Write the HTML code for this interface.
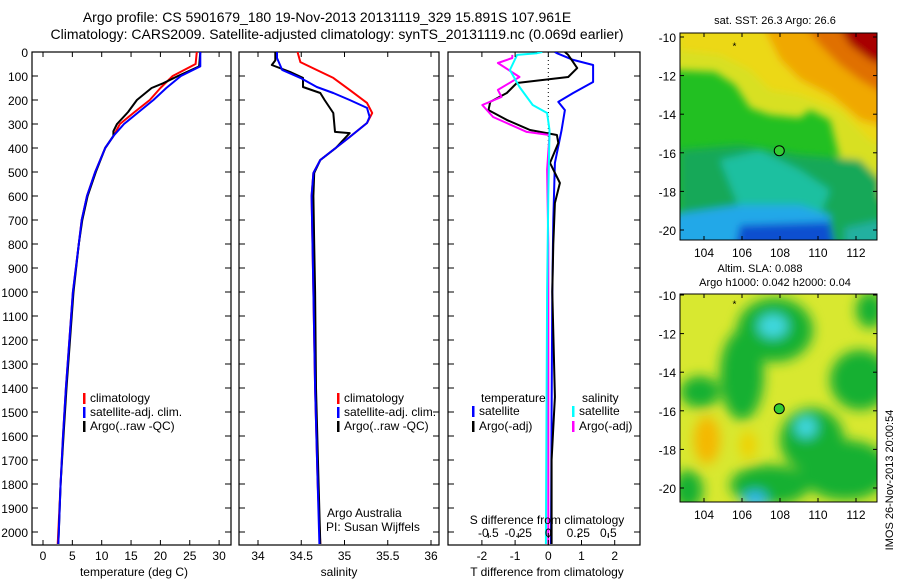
<!DOCTYPE html>
<html><head><meta charset="utf-8"><style>
body{margin:0;background:#fff}
svg{display:block;font-family:"Liberation Sans",sans-serif}
text{fill:#000}
</style></head><body>
<svg id="fig" width="900" height="580" viewBox="0 0 900 580">
<defs>
<filter id="blur6" x="-50%" y="-50%" width="200%" height="200%"><feGaussianBlur stdDeviation="6"/></filter>
<filter id="blur3" x="-20%" y="-20%" width="140%" height="140%"><feGaussianBlur stdDeviation="4"/></filter>
<clipPath id="cp1"><rect x="32" y="52" width="199" height="493"/></clipPath>
<clipPath id="cp2"><rect x="239" y="52" width="200" height="493"/></clipPath>
<clipPath id="cp3"><rect x="448" y="52" width="192" height="493"/></clipPath>
<clipPath id="cm1"><rect x="680" y="33" width="197" height="207"/></clipPath>
<clipPath id="cm2"><rect x="680" y="294" width="197" height="208"/></clipPath>
</defs>
<text x="327" y="22" font-size="14" text-anchor="middle">Argo profile: CS 5901679_180 19-Nov-2013 20131119_329 15.891S 107.961E</text>
<text x="337" y="39" font-size="14" text-anchor="middle">Climatology: CARS2009. Satellite-adjusted climatology: synTS_20131119.nc (0.069d earlier)</text>

<g id="map1" clip-path="url(#cm1)">
<rect x="680" y="33" width="197" height="207" fill="#22c022"/>
<g filter="url(#blur3)">
<polygon points="670,20 895,20 895,200 855,195 840,160 830,120 810,110 800,118 770,115 750,108 735,85 715,72 670,70" fill="#d8e020"/>
<polygon points="680,20 895,20 895,150 870,140 840,110 800,95 770,90 750,70 720,55 680,50" fill="#ecd818"/>
<polygon points="760,20 895,20 895,130 860,120 830,95 800,80 780,60 770,40" fill="#f0a800"/>
<polygon points="800,20 895,20 895,100 860,80 840,65 820,45" fill="#e07000"/>
<polygon points="835,20 895,20 895,70 870,60 850,45" fill="#a80000"/>
<polygon points="680,150 740,145 800,155 860,160 880,180 880,250 680,250" fill="#18a858"/>
<polygon points="720,160 760,150 800,170 830,190 820,215 740,210" fill="#1cc0a0"/>
<polygon points="670,215 740,205 800,205 830,215 830,250 670,250" fill="#20a8e8"/>
<polygon points="740,225 830,222 835,250 735,250" fill="#1050d0"/>
<polygon points="845,228 890,218 890,250 845,250" fill="#20b0a0"/>
</g>
</g>
<g id="map2" clip-path="url(#cm2)">
<rect x="680" y="294" width="197" height="208" fill="#d8e830"/>
<g filter="url(#blur6)">
<ellipse cx="775" cy="330" rx="38" ry="32" fill="#18b030"/>
<ellipse cx="742" cy="375" rx="22" ry="45" fill="#18b030"/>
<ellipse cx="700" cy="392" rx="20" ry="16" fill="#18b030"/>
<ellipse cx="860" cy="380" rx="30" ry="30" fill="#18b030"/>
<ellipse cx="870" cy="310" rx="14" ry="18" fill="#18b030"/>
<ellipse cx="812" cy="440" rx="32" ry="32" fill="#18b030"/>
<ellipse cx="845" cy="470" rx="45" ry="30" fill="#18b030"/>
<ellipse cx="770" cy="485" rx="40" ry="20" fill="#18b030"/>
<ellipse cx="688" cy="490" rx="15" ry="20" fill="#18b030"/>
<ellipse cx="773" cy="326" rx="15" ry="12" fill="#40d8e0"/>
<ellipse cx="806" cy="427" rx="11" ry="11" fill="#40d8e0"/>
<ellipse cx="755" cy="500" rx="12" ry="9" fill="#30b8f0"/>
<ellipse cx="707" cy="440" rx="13" ry="24" fill="#f5b800"/>
<ellipse cx="748" cy="445" rx="8" ry="14" fill="#f0d000"/>
</g>
</g>
</svg>
<script>
const NS="http://www.w3.org/2000/svg";
const svg=document.getElementById('fig');
// ---- data ----
const depthTicks=[0,100,200,300,400,500,600,700,800,900,1000,1100,1200,1300,1400,1500,1600,1700,1800,1900,2000];
const tempTicks=[0,5,10,15,20,25,30];
const salTicks=[34,34.5,35,35.5,36];
const salTickLabels=["34","34.5","35","35.5","36"];
const tdiffTicks=[-2,-1,0,1,2];
const sdiffTicks=[-0.5,-0.25,0,0.25,0.5];
const sdiffTickLabels=["-0.5","-0.25","0","0.25","0.5"];
const lonTicks=[104,106,108,110,112];
const latTicks=[-10,-12,-14,-16,-18,-20];

const tClimDepth=[0,50,100,150,200,250,300,350,400,500,600,700,800,1000,1200,1400,1600,1800,2000,2050];
const tClimVal=[26.2,26.0,22.1,20.0,18.2,15.6,13.1,12.0,10.6,8.9,7.5,6.6,6.1,5.1,4.5,3.9,3.4,3.0,2.6,2.5];
const tSatDepth=[0,60,100,150,200,250,300,350,400,500,600,700,800,1000,1200,1400,1600,1800,2000,2050];
const tSatVal=[26.8,26.8,23.5,21.0,18.8,16.3,13.8,12.0,10.6,8.9,7.5,6.6,6.1,5.1,4.5,3.9,3.4,3.0,2.7,2.6];
const tArgoDepth=[0,60,100,130,150,200,250,300,330,350,400,500,600,700,800,1000,1200,1400,1600,1800,2000,2050];
const tArgoVal=[26.8,26.6,23.0,20.5,18.5,16.0,14.5,12.6,12.0,12.0,10.6,9.0,7.6,6.7,6.1,5.2,4.6,4.0,3.5,3.0,2.7,2.6];

const sClimDepth=[0,4,42,75,108,158,212,254,296,354,450,504,600,800,1000,1400,1800,2050];
const sClimVal=[34.46,34.46,34.49,34.68,34.87,35.06,35.26,35.32,35.26,35.06,34.72,34.64,34.62,34.63,34.64,34.66,34.69,34.72];
const sSatDepth=[0,25,75,108,146,171,200,233,270,296,354,450,504,600,800,1000,1400,1800,2050];
const sSatVal=[34.22,34.22,34.28,34.49,34.68,34.87,35.06,35.26,35.29,35.26,35.06,34.72,34.64,34.62,34.63,34.64,34.66,34.69,34.71];
const sArgoDepth=[0,35,54,83,108,146,171,200,254,333,338,400,450,504,600,800,1000,1400,1800,2050];
const sArgoVal=[34.2,34.2,34.16,34.37,34.52,34.52,34.72,34.77,34.87,34.89,35.06,34.9,34.72,34.65,34.64,34.65,34.66,34.67,34.7,34.72];

const dTSatDepth=[0,5,33,54,125,171,208,242,325,462,700,1000,1500,2050];
const dTSatVal=[0.2,0.26,0.75,1.35,1.35,0.75,0.3,0.5,0.4,0.2,0.15,0.12,0.1,0.08];
const dTArgoDepth=[0,12,67,104,129,171,208,242,283,325,346,379,462,546,629,800,1000,1437,1700,2050];
const dTArgoVal=[0.5,0.6,0.87,0.6,-0.95,-1.25,-1.75,-1.8,-1.25,-0.55,0.26,0.3,0.05,0.35,0.2,0.15,0.12,0.2,0.1,0.1];
const dSSatDepth=[0,5,12,75,146,221,254,325,600,1000,2050];
const dSSatVal=[-0.05,-0.094,-0.26,-0.32,-0.24,-0.13,-0.01,0.01,0.0,-0.01,-0.02];
const dSArgoDepth=[12,25,46,104,158,187,221,271,333,346,491,800,1200,2050];
const dSArgoVal=[-0.3,-0.3,-0.42,-0.24,-0.42,-0.39,-0.55,-0.46,-0.18,0.01,-0.01,0.0,0.0,0.0];

// ---- scales ----
const yD=d=>52+d*0.24;
const xT=t=>43+t*5.87;
const xS=s=>258+(s-34)*86.5;
const xdT=t=>548.3+t*33.2;
const xdS=s=>548.3+s*120;
const xLon=l=>704+(l-104)*19;
const yLat1=l=>37+(-10-l)*19.3;
const yLat2=l=>295+(-10-l)*19.3;

function mk(tag,attrs,parent){const e=document.createElementNS(NS,tag);for(const k in attrs)e.setAttribute(k,attrs[k]);(parent||svg).appendChild(e);return e;}
function txt(x,y,s,size,anchor,parent){const e=mk('text',{x:x,y:y,'font-size':size,'text-anchor':anchor||'start'},parent);e.textContent=s;return e;}

function panel(x0,x1,name,clip){
  const g=mk('g',{});
  
  
  mk('rect',{x:x0,y:52,width:x1-x0,height:493,fill:'none',stroke:'#000','stroke-width':1.2},g);
  depthTicks.forEach(d=>{
    mk('line',{x1:x0,x2:x0+6,y1:yD(d),y2:yD(d),stroke:'#000'},g);
    mk('line',{x1:x1-6,x2:x1,y1:yD(d),y2:yD(d),stroke:'#000'},g);
  });
  const c=mk('g',{'clip-path':'url(#'+clip+')'});
  
  
  return c;
}
function line(parent,ds,vs,xf,color,name,w){
  const pts=ds.map((d,i)=>xf(vs[i]).toFixed(1)+','+yD(d).toFixed(1)).join(' ');
  const p=mk('polyline',{points:pts,fill:'none',stroke:color,'stroke-width':w||2,'stroke-linejoin':'round'},parent);
  
  
}
function legend(x,y,color,label,parent){
  mk('rect',{x:x,y:y-9,width:2.5,height:11,fill:color},parent);
  txt(x+7,y,label,12,'start',parent);
}

// depth labels
const yax=mk('g',{});


depthTicks.forEach(d=>txt(28,yD(d)+5,String(d),12,'end',yax));

// panel 1
const p1=panel(32,231,'temperature-panel','cp1');
tempTicks.forEach(t=>{mk('line',{x1:xT(t),x2:xT(t),y1:52,y2:57,stroke:'#000'});mk('line',{x1:xT(t),x2:xT(t),y1:540,y2:545,stroke:'#000'});txt(xT(t),560,String(t),12,'middle');});
txt(134,576,'temperature (deg C)',12,'middle');
line(p1,tClimDepth,tClimVal,xT,'#f00','temp-climatology-line');
line(p1,tArgoDepth,tArgoVal,xT,'#000','temp-argo-line');
line(p1,tSatDepth,tSatVal,xT,'#00f','temp-satellite-line');
const l1=mk('g',{});
legend(83,402,'#f00','climatology',l1);legend(83,416,'#00f','satellite-adj. clim.',l1);legend(83,430,'#000','Argo(..raw -QC)',l1);

// panel 2
const p2=panel(239,439,'salinity-panel','cp2');
salTicks.forEach((s,i)=>{mk('line',{x1:xS(s),x2:xS(s),y1:52,y2:57,stroke:'#000'});mk('line',{x1:xS(s),x2:xS(s),y1:540,y2:545,stroke:'#000'});txt(xS(s),560,salTickLabels[i],12,'middle');});
txt(339,576,'salinity',12,'middle');
line(p2,sClimDepth,sClimVal,xS,'#f00','sal-climatology-line');
line(p2,sArgoDepth,sArgoVal,xS,'#000','sal-argo-line');
line(p2,sSatDepth,sSatVal,xS,'#00f','sal-satellite-line');
const l2=mk('g',{});
legend(337,402,'#f00','climatology',l2);legend(337,416,'#00f','satellite-adj. clim.',l2);legend(337,430,'#000','Argo(..raw -QC)',l2);
const cr=mk('g',{});
txt(327,517,'Argo Australia',12,'start',cr);txt(326,531,'PI: Susan Wijffels',12,'start',cr);

// panel 3
const p3=panel(448,640,'difference-panel','cp3');
mk('line',{x1:548.3,x2:548.3,y1:52,y2:545,stroke:'#000','stroke-dasharray':'1,3'},p3);
tdiffTicks.forEach(t=>{mk('line',{x1:xdT(t),x2:xdT(t),y1:52,y2:57,stroke:'#000'});mk('line',{x1:xdT(t),x2:xdT(t),y1:540,y2:545,stroke:'#000'});txt(xdT(t),560,String(t),12,'middle');});
sdiffTicks.forEach((s,i)=>{mk('line',{x1:xdS(s),x2:xdS(s),y1:533,y2:538,stroke:'#000'});txt(xdS(s),537,sdiffTickLabels[i],12,'middle');});
txt(547,524,'S difference from climatology',12,'middle');
txt(547,576,'T difference from climatology',12,'middle');
line(p3,dTSatDepth,dTSatVal,xdT,'#00f','tdiff-satellite-line');
line(p3,dTArgoDepth,dTArgoVal,xdT,'#000','tdiff-argo-line');
line(p3,dSArgoDepth,dSArgoVal,xdS,'#f0f','sdiff-argo-line');
line(p3,dSSatDepth,dSSatVal,xdS,'#0ff','sdiff-satellite-line');
const l3=mk('g',{});
txt(481,402,'temperature',12,'start',l3);txt(582,402,'salinity',12,'start',l3);
legend(472,415,'#00f','satellite',l3);legend(472,430,'#000','Argo(-adj)',l3);
legend(572,415,'#0ff','satellite',l3);legend(572,430,'#f0f','Argo(-adj)',l3);

// maps
function mapAxes(top,bottom,yf,name){
  const g=mk('g',{});
  mk('rect',{x:680,y:top,width:197,height:bottom-top,fill:'none',stroke:'#000'},g);
  lonTicks.forEach(l=>{mk('line',{x1:xLon(l),x2:xLon(l),y1:top,y2:top+4,stroke:'#000'},g);mk('line',{x1:xLon(l),x2:xLon(l),y1:bottom-4,y2:bottom,stroke:'#000'},g);txt(xLon(l),bottom+17,String(l),12,'middle',g);});
  latTicks.forEach(l=>{mk('line',{x1:680,x2:684,y1:yf(l),y2:yf(l),stroke:'#000'},g);mk('line',{x1:873,x2:877,y1:yf(l),y2:yf(l),stroke:'#000'},g);txt(676,yf(l)+5,String(l),12,'end',g);});
  mk('circle',{cx:xLon(107.961),cy:yf(-15.891),r:5,fill:'#33cc33',stroke:'#000'},g);
  txt(xLon(105.6),yf(-10.5)+3,'*',10,'middle',g);
}
mapAxes(33,240,yLat1,'sst-map-axes');
mapAxes(294,502,yLat2,'sla-map-axes');
txt(775,24,'sat. SST: 26.3 Argo: 26.6',11,'middle');
txt(760,272,'Altim. SLA: 0.088',11,'middle');
txt(775,286,'Argo h1000: 0.042 h2000: 0.04',11,'middle');
const ts=txt(0,0,'IMOS 26-Nov-2013 20:00:54',11,'middle');
ts.setAttribute('transform','translate(893,480) rotate(-90)');


</script>
</body></html>
